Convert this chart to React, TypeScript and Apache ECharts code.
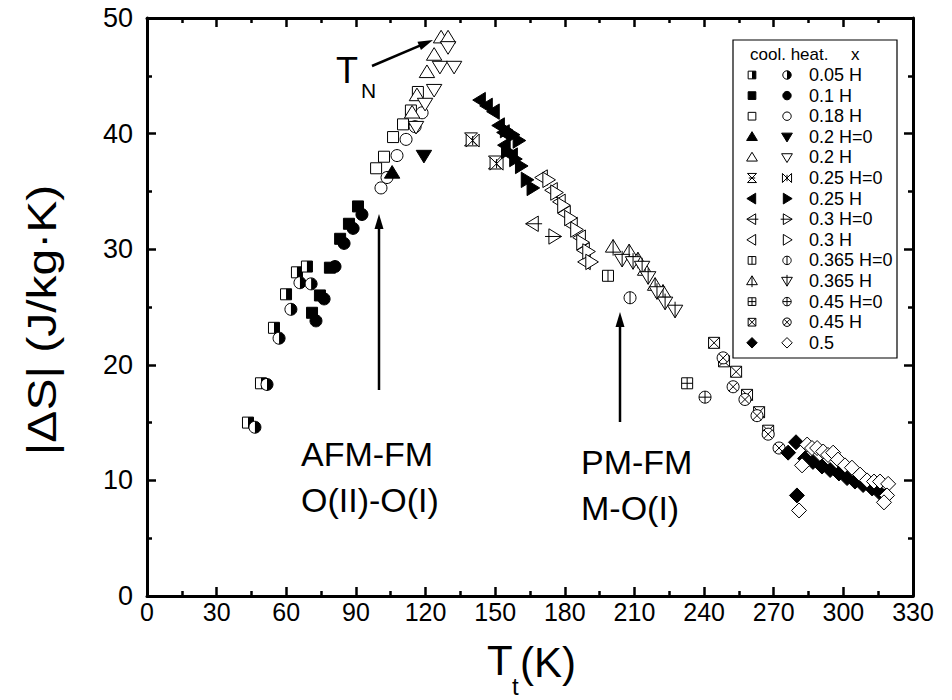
import React, { useEffect, useRef } from 'react';
import * as echarts from 'echarts';

type Pt = [number, number];

// ---- data (T in K, |ΔS| in J/kg·K) ----
const xTickMax = 330;
const xTickStep = 30;
const yTickMax = 50;
const yTickStep = 10;

const cool005: Pt[] = [[43.5, 15.0], [49.1, 18.4], [54.7, 23.2], [59.9, 26.1], [64.6, 28.0], [68.9, 28.5]];
const heat005: Pt[] = [[46.5, 14.6], [51.7, 18.3], [56.9, 22.3], [62.0, 24.8], [65.9, 27.1], [70.7, 27.0]];
const cool01: Pt[] = [[71.1, 24.5], [74.5, 26.0], [78.8, 28.4], [83.2, 30.9], [87.0, 32.2], [90.9, 33.7]];
const heat01: Pt[] = [[72.8, 23.8], [76.3, 25.7], [81.0, 28.5], [84.9, 30.5], [88.8, 31.8], [92.6, 33.0]];
const cool018: Pt[] = [[98.7, 37.0], [102.1, 38.0], [106.0, 39.7], [110.3, 40.8], [113.7, 42.0], [116.7, 43.6]];
const heat018: Pt[] = [[100.8, 35.3], [103.4, 36.2], [107.7, 38.1], [111.6, 39.5], [115.5, 40.6], [118.5, 41.8]];
const cool02H0: Pt[] = [[105.6, 36.6]];
const heat02H0: Pt[] = [[119.3, 38.1]];
const cool02: Pt[] = [[114.2, 41.8], [116.3, 43.3], [120.6, 45.3], [123.7, 46.8], [126.7, 48.3], [129.7, 48.3]];
const heat02: Pt[] = [[115.9, 40.6], [119.8, 42.6], [123.7, 43.8], [126.2, 45.8], [132.3, 45.8], [129.7, 47.5]];
const cool025H0: Pt[] = [[139.6, 39.5], [149.9, 37.5]];
const heat025H0: Pt[] = [[140.3, 39.4], [150.6, 37.4]];
const cool025: Pt[] = [[143.5, 42.9], [146.5, 42.4], [149.5, 41.9], [151.7, 40.7], [153.8, 40.1], [154.2, 39.0], [157.3, 38.1]];
const heat025: Pt[] = [[154.5, 40.3], [157.5, 39.9], [160.0, 39.4], [155.0, 38.5], [158.5, 37.8], [161.0, 37.2], [163.5, 36.0], [166.0, 35.3]];
const cool03H0: Pt[] = [[166.3, 32.2]];
const heat03H0: Pt[] = [[175.4, 31.1]];
const cool03: Pt[] = [[170.2, 36.2], [174.5, 35.1], [177.9, 34.1], [180.1, 33.1], [183.1, 32.1], [186.6, 31.0], [188.3, 29.9], [188.7, 28.9]];
const heat03: Pt[] = [[172.8, 36.0], [176.2, 34.9], [179.2, 33.8], [182.2, 32.7], [184.8, 31.7], [187.4, 30.6], [190.0, 29.8], [191.3, 28.9]];
const cool0365H0: Pt[] = [[198.6, 27.7]];
const heat0365H0: Pt[] = [[208.1, 25.8]];
const cool0365: Pt[] = [[200.8, 30.2], [207.7, 29.8], [211.5, 29.1], [214.6, 28.2], [218.9, 26.9], [222.3, 26.3]];
const heat0365: Pt[] = [[204.7, 29.1], [209.4, 28.9], [213.3, 28.5], [215.9, 27.6], [219.7, 26.3], [223.2, 25.4], [227.5, 24.7]];
const cool045H0: Pt[] = [[232.7, 18.4]];
const heat045H0: Pt[] = [[240.4, 17.2]];
const cool045: Pt[] = [[244.3, 21.9], [248.6, 20.3], [253.8, 19.4], [258.5, 17.4], [263.7, 15.9], [267.6, 14.3]];
const heat045: Pt[] = [[248.2, 20.6], [252.5, 18.1], [257.6, 17.0], [262.8, 15.6], [267.6, 14.0], [272.3, 12.8]];
const cool05: Pt[] = [[276.2, 12.4], [279.6, 13.3], [280.0, 8.7], [283.5, 11.9], [286.9, 11.6], [290.8, 11.2], [294.3, 10.9], [298.1, 10.6], [301.6, 10.2], [305.0, 9.9], [308.5, 9.6], [312.4, 9.3], [315.8, 8.9], [318.4, 8.7]];
const heat05: Pt[] = [[280.9, 7.4], [282.2, 11.3], [284.4, 13.1], [286.5, 12.8], [288.7, 12.8], [291.3, 12.5], [293.4, 12.2], [295.6, 12.4], [297.7, 11.8], [300.7, 11.3], [303.7, 11.1], [307.2, 10.5], [310.2, 10.0], [313.2, 9.9], [315.8, 9.9], [319.3, 9.7], [318.8, 8.7], [317.5, 8.1]];

const legendLabels = ['0.05 H', '0.1 H', '0.18 H', '0.2 H=0', '0.2 H', '0.25 H=0', '0.25 H', '0.3 H=0', '0.3 H', '0.365 H=0', '0.365 H', '0.45 H=0', '0.45 H', '0.5'];

type Shape = 'sq' | 'ci' | 'tu' | 'td' | 'tl' | 'tr' | 'di' | 'hgv' | 'hgh';
type Fill = 'open' | 'fill' | 'half';
type Deco = '' | 'x' | 'plus' | 'vline' | 'hline';
interface Sym { shape: Shape; fill: Fill; deco: Deco }

const rows: { label: string; cool: Pt[]; heat: Pt[]; cs: Sym; hs: Sym }[] = [
  { label: legendLabels[0], cool: cool005, heat: heat005, cs: { shape: 'sq', fill: 'half', deco: '' }, hs: { shape: 'ci', fill: 'half', deco: '' } },
  { label: legendLabels[1], cool: cool01, heat: heat01, cs: { shape: 'sq', fill: 'fill', deco: '' }, hs: { shape: 'ci', fill: 'fill', deco: '' } },
  { label: legendLabels[2], cool: cool018, heat: heat018, cs: { shape: 'sq', fill: 'open', deco: '' }, hs: { shape: 'ci', fill: 'open', deco: '' } },
  { label: legendLabels[3], cool: cool02H0, heat: heat02H0, cs: { shape: 'tu', fill: 'fill', deco: '' }, hs: { shape: 'td', fill: 'fill', deco: '' } },
  { label: legendLabels[4], cool: cool02, heat: heat02, cs: { shape: 'tu', fill: 'open', deco: '' }, hs: { shape: 'td', fill: 'open', deco: '' } },
  { label: legendLabels[5], cool: cool025H0, heat: heat025H0, cs: { shape: 'hgv', fill: 'open', deco: 'x' }, hs: { shape: 'hgh', fill: 'open', deco: 'x' } },
  { label: legendLabels[6], cool: cool025, heat: heat025, cs: { shape: 'tl', fill: 'fill', deco: '' }, hs: { shape: 'tr', fill: 'fill', deco: '' } },
  { label: legendLabels[7], cool: cool03H0, heat: heat03H0, cs: { shape: 'tl', fill: 'open', deco: 'hline' }, hs: { shape: 'tr', fill: 'open', deco: 'hline' } },
  { label: legendLabels[8], cool: cool03, heat: heat03, cs: { shape: 'tl', fill: 'open', deco: '' }, hs: { shape: 'tr', fill: 'open', deco: '' } },
  { label: legendLabels[9], cool: cool0365H0, heat: heat0365H0, cs: { shape: 'sq', fill: 'open', deco: 'vline' }, hs: { shape: 'ci', fill: 'open', deco: 'vline' } },
  { label: legendLabels[10], cool: cool0365, heat: heat0365, cs: { shape: 'tu', fill: 'open', deco: 'vline' }, hs: { shape: 'td', fill: 'open', deco: 'vline' } },
  { label: legendLabels[11], cool: cool045H0, heat: heat045H0, cs: { shape: 'sq', fill: 'open', deco: 'plus' }, hs: { shape: 'ci', fill: 'open', deco: 'plus' } },
  { label: legendLabels[12], cool: cool045, heat: heat045, cs: { shape: 'sq', fill: 'open', deco: 'x' }, hs: { shape: 'ci', fill: 'open', deco: 'x' } },
  { label: legendLabels[13], cool: cool05, heat: heat05, cs: { shape: 'di', fill: 'fill', deco: '' }, hs: { shape: 'di', fill: 'open', deco: '' } },
];

const BLACK = '#000';
const WHITE = '#fff';

function ln(x1: number, y1: number, x2: number, y2: number, w = 1) {
  return { type: 'line', shape: { x1, y1, x2, y2 }, style: { stroke: BLACK, lineWidth: w } };
}

function markerEls(sym: Sym, x: number, y: number, k: number): any[] {
  const els: any[] = [];
  const lw = 1;
  const st = { fill: sym.fill === 'fill' ? BLACK : WHITE, stroke: BLACK, lineWidth: lw };
  const poly = (pts: number[][]) => els.push({ type: 'polygon', shape: { points: pts }, style: st });
  switch (sym.shape) {
    case 'sq': {
      const r = 5.5 * k;
      els.push({ type: 'rect', shape: { x: x - r, y: y - r, width: 2 * r, height: 2 * r }, style: st });
      if (sym.fill === 'half') els.push({ type: 'rect', shape: { x, y: y - r, width: r, height: 2 * r }, style: { fill: BLACK } });
      if (sym.deco === 'vline') els.push(ln(x, y - r, x, y + r));
      if (sym.deco === 'plus') { els.push(ln(x, y - r, x, y + r)); els.push(ln(x - r, y, x + r, y)); }
      if (sym.deco === 'x') { els.push(ln(x - r, y - r, x + r, y + r)); els.push(ln(x - r, y + r, x + r, y - r)); }
      break;
    }
    case 'ci': {
      const r = 6 * k;
      els.push({ type: 'circle', shape: { cx: x, cy: y, r }, style: st });
      if (sym.fill === 'half') els.push({ type: 'sector', shape: { cx: x, cy: y, r0: 0, r, startAngle: -Math.PI / 2, endAngle: Math.PI / 2, clockwise: true }, style: { fill: BLACK } });
      if (sym.deco === 'vline') els.push(ln(x, y - r, x, y + r));
      if (sym.deco === 'plus') { els.push(ln(x, y - r, x, y + r)); els.push(ln(x - r, y, x + r, y)); }
      if (sym.deco === 'x') { const d = r * 0.72; els.push(ln(x - d, y - d, x + d, y + d)); els.push(ln(x - d, y + d, x + d, y - d)); }
      break;
    }
    case 'tu': {
      const r = 7 * k;
      poly([[x, y - r * 1.05], [x + r * 1.1, y + r * 0.75], [x - r * 1.1, y + r * 0.75]]);
      if (sym.deco === 'vline') els.push(ln(x, y - r * 1.05, x, y + r * 1.25));
      break;
    }
    case 'td': {
      const r = 7 * k;
      poly([[x, y + r * 1.05], [x + r * 1.1, y - r * 0.75], [x - r * 1.1, y - r * 0.75]]);
      if (sym.deco === 'vline') els.push(ln(x, y + r * 1.05, x, y - r * 1.25));
      break;
    }
    case 'tl': {
      const r = 7 * k;
      poly([[x - r * 1.05, y], [x + r * 0.75, y - r * 1.1], [x + r * 0.75, y + r * 1.1]]);
      if (sym.deco === 'hline') els.push(ln(x - r * 1.05, y, x + r * 1.3, y));
      break;
    }
    case 'tr': {
      const r = 7 * k;
      poly([[x + r * 1.05, y], [x - r * 0.75, y - r * 1.1], [x - r * 0.75, y + r * 1.1]]);
      if (sym.deco === 'hline') els.push(ln(x + r * 1.05, y, x - r * 1.3, y));
      break;
    }
    case 'di': {
      const r = 7.5 * k;
      poly([[x, y - r], [x + r, y], [x, y + r], [x - r, y]]);
      break;
    }
    case 'hgv': {
      const r = 6.5 * k;
      poly([[x - r, y - r], [x + r, y - r], [x - r, y + r], [x + r, y + r]]);
      els.push(ln(x - r * 0.7, y, x + r * 0.7, y));
      break;
    }
    case 'hgh': {
      const r = 6.5 * k;
      poly([[x - r, y - r], [x - r, y + r], [x + r, y - r], [x + r, y + r]]);
      els.push(ln(x, y - r * 0.7, x, y + r * 0.7));
      break;
    }
  }
  return els;
}

const FONT = 'Liberation Sans, Arial, Helvetica, sans-serif';

function arrow(x1: number, y1: number, x2: number, y2: number) {
  const dx = x2 - x1, dy = y2 - y1;
  const L = Math.hypot(dx, dy);
  const ux = dx / L, uy = dy / L;
  const hl = 15, hw = 4.5;
  const bx = x2 - ux * hl, by = y2 - uy * hl;
  const px = -uy, py = ux;
  return [
    { type: 'line', shape: { x1, y1, x2: bx + ux * 2, y2: by + uy * 2 }, style: { stroke: BLACK, lineWidth: 2.5 } },
    { type: 'polygon', shape: { points: [[x2, y2], [bx + px * hw, by + py * hw], [bx - px * hw, by - py * hw]] }, style: { fill: BLACK } },
  ];
}

function txt(text: string, x: number, y: number, size: number, extra: any = {}) {
  return {
    type: 'text', x, y, ...extra,
    style: { text, font: `${size}px ${FONT}`, fill: BLACK, textAlign: 'left', textVerticalAlign: 'middle' },
  };
}

export default function App() {
  const ref = useRef<HTMLDivElement>(null);
  useEffect(() => {
    if (!ref.current) return;
    const chart = echarts.init(ref.current, undefined, { renderer: 'svg' });

    const axisCommon = {
      type: 'value',
      axisLine: { show: true, onZero: false, lineStyle: { color: BLACK, width: 3 } },
      axisTick: { show: true, inside: true, length: 9, lineStyle: { color: BLACK, width: 2.5 } },
      minorTick: { show: true, splitNumber: 2, length: 5, lineStyle: { color: BLACK, width: 2.5 } },
      splitLine: { show: false },
      minorSplitLine: { show: false },
    };
    const xBase = { ...axisCommon, min: 0, max: xTickMax, interval: xTickStep };
    const yBase = { ...axisCommon, min: 0, max: yTickMax, interval: yTickStep };

    const series = rows.flatMap((row, i) => ([row.cool, row.heat].map((data, j) => {
      const sym = j === 0 ? row.cs : row.hs;
      return {
        type: 'custom',
        name: `${row.label} ${j === 0 ? 'cool' : 'heat'}`,
        xAxisIndex: 0,
        yAxisIndex: 0,
        data,
        z: 2 + i * 2 + j,
        silent: true,
        renderItem: (_p: any, api: any) => {
          const c = api.coord([api.value(0), api.value(1)]);
          return { type: 'group', children: markerEls(sym, c[0], c[1], 1) };
        },
      };
    })));

    // legend
    const lgX = 733, lgY = 40, lgW = 164, lgH = 318;
    const rowY0 = 75, rowDy = 20.6;
    const legendEls: any[] = [
      { type: 'rect', shape: { x: lgX, y: lgY, width: lgW, height: lgH }, style: { fill: WHITE, stroke: BLACK, lineWidth: 1.2 } },
      txt('cool. heat.', 750, 54, 17),
      txt('x', 851, 54, 17),
    ];
    rows.forEach((row, i) => {
      const y = rowY0 + i * rowDy;
      legendEls.push(...markerEls(row.cs, 752, y, 0.7));
      legendEls.push(...markerEls(row.hs, 787, y, 0.7));
      legendEls.push(txt(row.label, 809, y, 18));
    });

    const graphic: any[] = [
      { type: 'group', z: 100, children: legendEls },
      // annotations
      ...arrow(372, 66, 433, 40),
      ...arrow(379, 390, 379, 214),
      ...arrow(620, 422, 620, 312),
      txt('T', 336, 70, 36),
      txt('N', 361, 90, 21),
      txt('AFM-FM', 301, 454, 34),
      txt('O(II)-O(I)', 301, 500, 34),
      txt('PM-FM', 581, 462, 34),
      txt('M-O(I)', 581, 508, 34),
      // axis titles
      {
        type: 'text', x: 42, y: 320, rotation: Math.PI / 2, scaleX: 1.2,
        style: { text: '|ΔS| (J/kg·K)', font: `40px ${FONT}`, fill: BLACK, textAlign: 'center', textVerticalAlign: 'middle' },
      },
      txt('T', 487, 660, 42),
      txt('t', 512, 686, 24),
      txt('(K)', 520, 662, 42),
    ];

    chart.setOption({
      animation: false,
      backgroundColor: WHITE,
      grid: { left: 147, right: 39, top: 18, bottom: 104 },
      xAxis: [
        { ...xBase, position: 'bottom', axisLabel: { color: BLACK, fontSize: 25, fontFamily: FONT, margin: 3 } },
        { ...xBase, position: 'top', axisLabel: { show: false } },
      ],
      yAxis: [
        { ...yBase, position: 'left', axisLabel: { color: BLACK, fontSize: 27, fontFamily: FONT, margin: 14 } },
        { ...yBase, position: 'right', axisLabel: { show: false } },
      ],
      series,
      graphic,
    });
    return () => chart.dispose();
  }, []);
  return <div ref={ref} style={{ width: 952, height: 700, position: 'absolute', left: 0, top: 0 }} />;
}
